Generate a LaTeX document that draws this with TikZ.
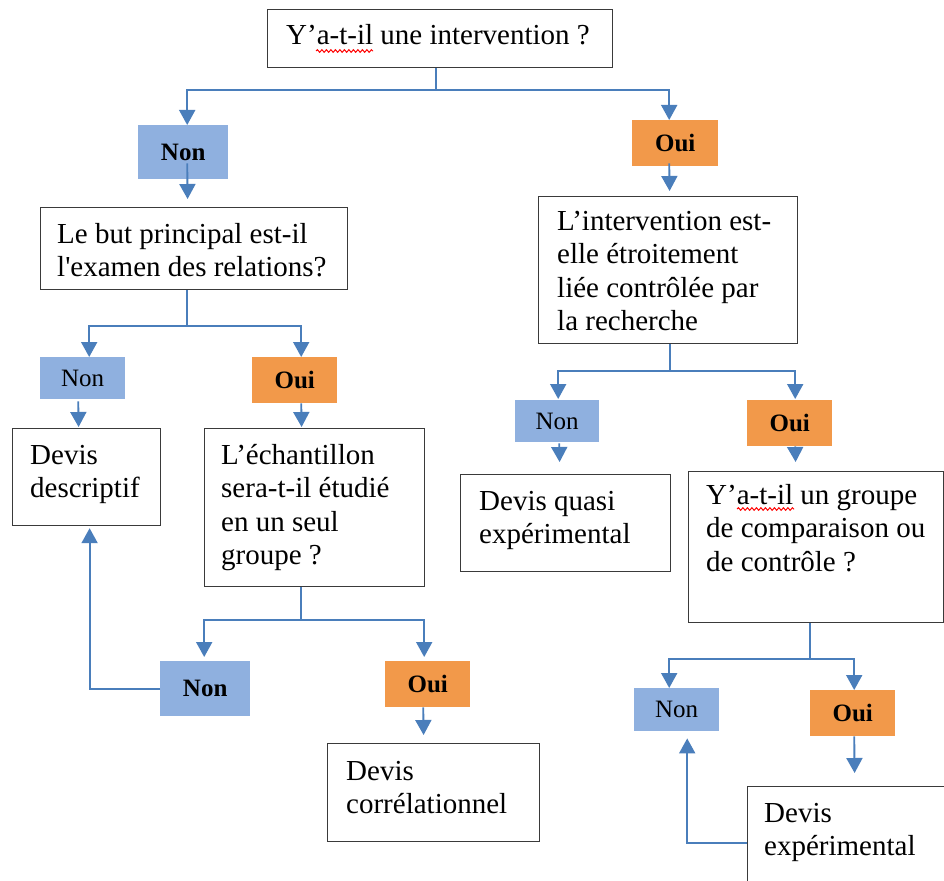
\documentclass[tikz,border=0pt]{standalone}
\usepackage{fontspec}
\setmainfont{Liberation Serif}[Ligatures=TeXOff]
\usetikzlibrary{arrows.meta,decorations.pathmorphing}

\definecolor{framegray}{HTML}{3A3A3A}
\definecolor{linkblue}{HTML}{4A7EBB}
\definecolor{nonblue}{HTML}{8FB0DF}
\definecolor{ouiorange}{HTML}{F2994A}

\tikzset{
  frame/.style={draw=framegray, line width=1.2pt, inner sep=0pt, anchor=north west},
  body/.style={anchor=base west, inner sep=0pt, font=\fontsize{29}{33.5}\selectfont},
  answer/.style={anchor=north west, inner sep=0pt, font=\fontsize{25}{30}\selectfont},
  nonlab/.style={answer, fill=nonblue},
  ouilab/.style={answer, fill=ouiorange},
  link/.style={draw=linkblue, line width=1.9pt},
  arr/.style={link, -{Triangle[width=16pt,length=15pt]}},
  spell/.style={draw=red, line width=1pt, decorate,
    decoration={snake, amplitude=1.3pt, segment length=4.5pt}}
}

\newcommand{\lines}[1]{\parbox[t]{420pt}{\raggedright #1}}

\begin{document}
\begin{tikzpicture}[x=1pt,y=-1pt]
\useasboundingbox (0,0) rectangle (944,880);
\fill[white] (0,0) rectangle (944,880);

% question and outcome boxes
\node[frame, minimum width=345pt, minimum height=58pt]  (q0)    at (267,9)   {};
\node[frame, minimum width=307pt, minimum height=82pt]  (qRel)  at (40,207)  {};
\node[frame, minimum width=259pt, minimum height=147pt] (qCtl)  at (538,196) {};
\node[frame, minimum width=148pt, minimum height=97pt]  (dDesc) at (12,428)  {};
\node[frame, minimum width=220pt, minimum height=158pt] (qGrp)  at (204,428) {};
\node[frame, minimum width=212pt, minimum height=98pt]  (dCorr) at (327,743) {};
\node[frame, minimum width=210pt, minimum height=97pt]  (dQuasi) at (460,474) {};
\node[frame, minimum width=255pt, minimum height=151pt] (qComp) at (688,471) {};
\node[frame, minimum width=213pt, minimum height=114pt] (dExp)  at (747,786) {};

% box texts
\node[body] (q0t)    at (286,45)  {\lines{Y’a-t-il une intervention ?}};
\node[body] (qRelt)  at (57,243)  {\lines{Le but principal est-il\\l'examen des relations?}};
\node[body] (qCtlt)  at (557,230) {\lines{L’intervention est-\\elle étroitement\\liée contrôlée par\\la recherche}};
\node[body] (dDesct) at (30,464)  {\lines{Devis\\descriptif}};
\node[body] (qGrpt)  at (221,464) {\lines{L’échantillon\\sera-t-il étudié\\en un seul\\groupe ?}};
\node[body] (dCorrt) at (346,780) {\lines{Devis\\corrélationnel}};
\node[body] (dQuasit) at (479,510) {\lines{Devis quasi\\expérimental}};
\node[body] (qCompt) at (706,504) {\lines{Y’a-t-il un groupe\\de comparaison ou\\de contrôle ?}};
\node[body] (dExpt)  at (764,822) {\lines{Devis\\expérimental}};

% spelling marks under "a-t-il"
\draw[spell] (316,51) -- (373,51);
\draw[spell] (737,509) -- (794,509);

% answer labels
\node[nonlab, minimum width=90pt, minimum height=54pt] (nonA) at (138,125) {\textbf{Non}};
\node[ouilab, minimum width=86pt, minimum height=46pt] (ouiA) at (632,120) {\textbf{Oui}};
\node[nonlab, minimum width=85pt, minimum height=42pt] (nonB) at (40,357)  {Non};
\node[ouilab, minimum width=85pt, minimum height=46pt] (ouiB) at (252,357) {\textbf{Oui}};
\node[nonlab, minimum width=90pt, minimum height=55pt] (nonC) at (160,661) {\textbf{Non}};
\node[ouilab, minimum width=85pt, minimum height=46pt] (ouiC) at (385,661) {\textbf{Oui}};
\node[nonlab, minimum width=84pt, minimum height=42pt] (nonD) at (515,400) {Non};
\node[ouilab, minimum width=85pt, minimum height=46pt] (ouiD) at (747,400) {\textbf{Oui}};
\node[nonlab, minimum width=85pt, minimum height=43pt] (nonE) at (634,688) {Non};
\node[ouilab, minimum width=85pt, minimum height=46pt] (ouiE) at (810,690) {\textbf{Oui}};

% branch points
\coordinate (j0) at (436,90);
\coordinate (j1) at (187,326);
\coordinate (j2) at (301,620);
\coordinate (j3) at (670,371);
\coordinate (j4) at (810,659);

% first question
\draw[link] (q0.south -| j0) -- (j0);
\draw[arr] (j0) -| ([xshift=4pt]nonA.north);
\draw[arr] (j0) -| ([xshift=-6pt]ouiA.north);
\draw[arr] ([xshift=4pt,yshift=16pt]nonA.south) -- ([xshift=-6.5pt,yshift=8pt]qRel.north);
\draw[arr] ([xshift=-6pt,yshift=3pt]ouiA.south) -- ([xshift=1.5pt,yshift=5pt]qCtl.north);

% left branch
\draw[link] (qRel.south -| j1) -- (j1);
\draw[arr] (j1) -| ([xshift=6.5pt]nonB.north);
\draw[arr] (j1) -| ([xshift=6.5pt]ouiB.north);
\draw[arr] ([xshift=-4.5pt,yshift=-2pt]nonB.south) -- ([xshift=-8pt,yshift=1pt]dDesc.north);
\draw[arr] ([xshift=6.5pt]ouiB.south) -- ([xshift=-13pt,yshift=1pt]qGrp.north);

\draw[link] (qGrp.south -| j2) -- (j2);
\draw[arr] (j2) -| ([xshift=-1pt,yshift=4pt]nonC.north);
\draw[arr] (j2) -| ([xshift=-3.5pt,yshift=4pt]ouiC.north);
\draw[arr] (nonC.west) -| ([xshift=3pt,yshift=-2pt]dDesc.south);
\draw[arr] ([xshift=-4.5pt]ouiC.south) -- ([xshift=-10pt,yshift=8pt]dCorr.north);

% right branch
\draw[link] (qCtl.south -| j3) -- (j3);
\draw[arr] (j3) -| ([xshift=1pt,yshift=1pt]nonD.north);
\draw[arr] (j3) -| ([xshift=5.5pt,yshift=1pt]ouiD.north);
\draw[arr] ([xshift=2pt,yshift=-1pt]nonD.south) -- ([xshift=-6pt,yshift=12pt]dQuasi.north);
\draw[arr] ([xshift=5.5pt]ouiD.south) -- ([xshift=-20.5pt,yshift=9pt]qComp.north);

\draw[link] (qComp.south -| j4) -- (j4);
\draw[arr] (j4) -| ([xshift=-7.5pt]nonE.north);
\draw[arr] (j4) -| ([xshift=1.5pt]ouiE.north);
\draw[arr] ([xshift=1.5pt]ouiE.south) -- ([xshift=0.5pt,yshift=13pt]dExp.north);
\draw[arr] ([yshift=1pt]dExp.west) -| ([xshift=10.5pt,yshift=-7pt]nonE.south);
\end{tikzpicture}
\end{document}
